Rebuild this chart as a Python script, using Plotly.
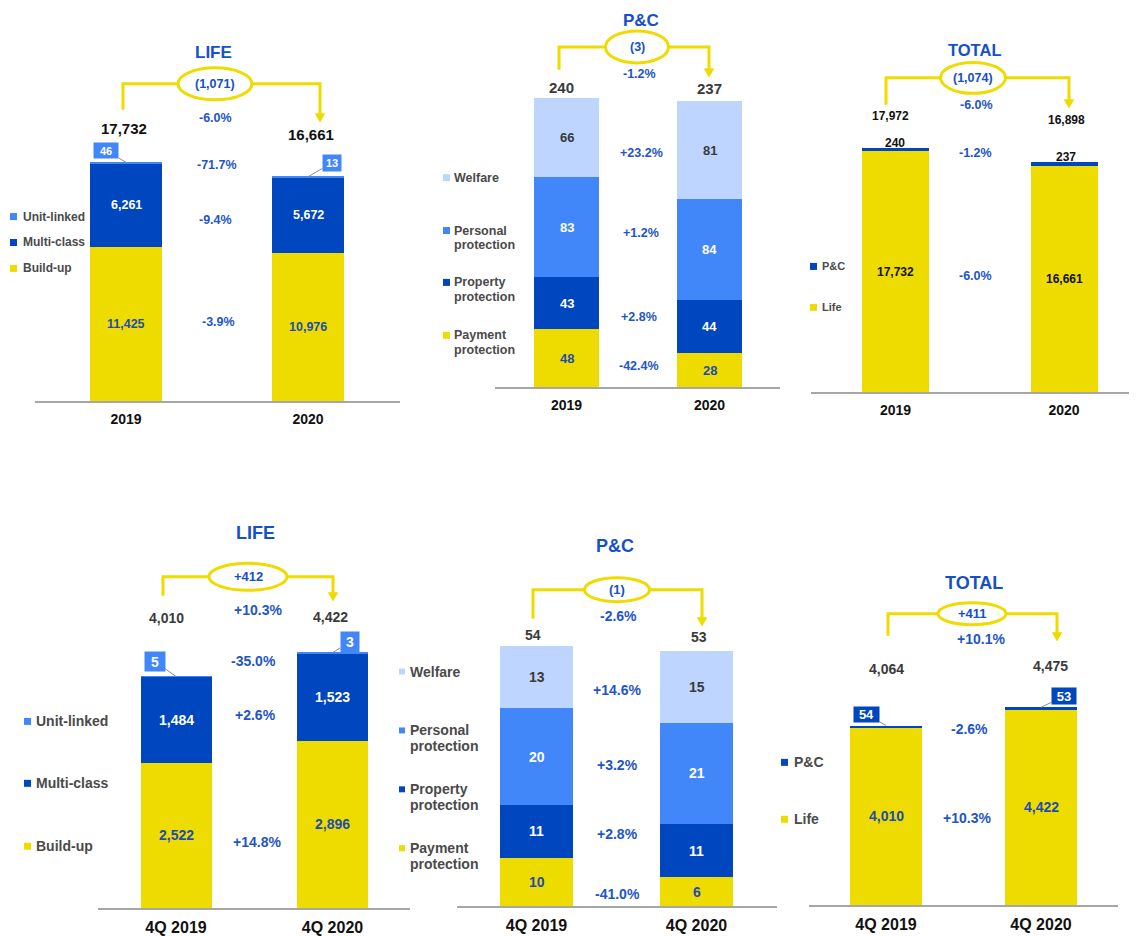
import plotly.graph_objects as go

# The page body has an 8px margin, so the figure is sized to fit the 1137x936 window.
OFF = 8
W, H = 1137 - OFF, 936 - OFF
FONT = "Liberation Sans, Arial, sans-serif"

# ---------------- data ----------------
years = ["2019", "2020"]
quarters = ["4Q 2019", "4Q 2020"]

life_series = ["Build-up", "Multi-class", "Unit-linked"]
pc_series = ["Payment protection", "Property protection", "Personal protection", "Welfare"]
total_series = ["Life", "P&C"]

# LIFE full year
life_fy_build_up = [11425, 10976]
life_fy_multi_class = [6261, 5672]
life_fy_unit_linked = [46, 13]
life_fy_totals = ["17,732", "16,661"]
life_fy_delta = "(1,071)"
life_fy_changes = ["-6.0%", "-71.7%", "-9.4%", "-3.9%"]

# P&C full year
pc_fy_payment = [48, 28]
pc_fy_property = [43, 44]
pc_fy_personal = [83, 84]
pc_fy_welfare = [66, 81]
pc_fy_totals = ["240", "237"]
pc_fy_delta = "(3)"
pc_fy_changes = ["-1.2%", "+23.2%", "+1.2%", "+2.8%", "-42.4%"]

# TOTAL full year
tot_fy_life = [17732, 16661]
tot_fy_pc = [240, 237]
tot_fy_totals = ["17,972", "16,898"]
tot_fy_delta = "(1,074)"
tot_fy_changes = ["-6.0%", "-1.2%", "-6.0%"]

# LIFE 4Q
life_q_build_up = [2522, 2896]
life_q_multi_class = [1484, 1523]
life_q_unit_linked = [5, 3]
life_q_totals = ["4,010", "4,422"]
life_q_delta = "+412"
life_q_changes = ["+10.3%", "-35.0%", "+2.6%", "+14.8%"]

# P&C 4Q
pc_q_payment = [10, 6]
pc_q_property = [11, 11]
pc_q_personal = [20, 21]
pc_q_welfare = [13, 15]
pc_q_totals = ["54", "53"]
pc_q_delta = "(1)"
pc_q_changes = ["-2.6%", "+14.6%", "+3.2%", "+2.8%", "-41.0%"]

# TOTAL 4Q
tot_q_life = [4010, 4422]
tot_q_pc = [54, 53]
tot_q_totals = ["4,064", "4,475"]
tot_q_delta = "+411"
tot_q_changes = ["+10.1%", "-2.6%", "+10.3%"]

# ---------------- styles ----------------
YELLOW = "#EEDC00"
DARK = "#0046BE"
MID = "#4287FA"
LIGHT = "#BED6FF"
TITLE_BLUE = "#1550C8"
PCT_BLUE = "#1E55C8"
IN_YELLOW = "#1C4DAF"
AXIS = "#A6A6A6"
LEG_TXT = "#4A4A4A"
GREY_TXT = "#3A3A3A"

fig = go.Figure()
annotations = []
shapes = []
axes = {}


def px(x):
    return (x - OFF) / W


def py(y):
    return 1 - (y - OFF) / H


def label(x, y, s, size, color, bold=True, xanchor="center"):
    annotations.append(dict(
        xref="paper", yref="paper", x=px(x), y=py(y),
        text=f"<b>{s}</b>" if bold else s, showarrow=False,
        xanchor=xanchor, yanchor="middle",
        font=dict(family=FONT, size=size, color=color)))


def bracket(b):
    lx, ly, hy, rx, tip, cx, ew, eh = b
    shapes.append(dict(type="path", xref="paper", yref="paper",
                       path=f"M {px(lx)},{py(ly)} L {px(lx)},{py(hy)} L {px(rx)},{py(hy)} L {px(rx)},{py(tip - 6)}",
                       line=dict(color=YELLOW, width=3)))
    shapes.append(dict(type="path", xref="paper", yref="paper",
                       path=f"M {px(rx - 4.5)},{py(tip - 8)} L {px(rx + 4.5)},{py(tip - 8)} L {px(rx)},{py(tip)} Z",
                       fillcolor=YELLOW, line=dict(color=YELLOW, width=1)))
    shapes.append(dict(type="circle", xref="paper", yref="paper",
                       x0=px(cx - ew / 2), x1=px(cx + ew / 2), y0=py(hy + eh / 2), y1=py(hy - eh / 2),
                       fillcolor="white", line=dict(color=YELLOW, width=3)))


def add_panel(i, cats, segs, geo):
    xa = "x" if i == 1 else f"x{i}"
    ya = "y" if i == 1 else f"y{i}"
    xl, xr = geo["xspan"]
    c0, c1 = geo["centers"]
    s = c1 - c0
    base, top, upp = geo["base"], geo["top"], geo["upp"]
    for name, vals, color, tcolor in segs:
        fig.add_trace(go.Bar(x=cats, y=vals, name=name, xaxis=xa, yaxis=ya,
                             width=geo["bw"] / s, showlegend=False,
                             marker=dict(color=color, line=dict(width=0))))
    cum = [0, 0]
    for name, vals, color, tcolor in segs:
        for k in range(2):
            if tcolor:
                annotations.append(dict(
                    xref=xa, yref=ya, x=k, y=cum[k] + vals[k] / 2,
                    text=f"<b>{vals[k]:,}</b>", showarrow=False,
                    font=dict(family=FONT, size=geo["insize"], color=tcolor)))
            cum[k] += vals[k]
    # callouts for the thin top segment
    if "callouts" in geo:
        vals = segs[-1][1]
        for k, (ax, ay, w, h) in enumerate(geo["callouts"]):
            annotations.append(dict(
                xref=xa, yref=ya, x=k, y=cum[k], text=f"<b>{vals[k]}</b>",
                showarrow=True, arrowhead=0, arrowwidth=1, arrowcolor="#8C8C8C",
                ax=ax, ay=ay, width=w, height=h, bgcolor=geo["callout_color"],
                font=dict(family=FONT, size=geo["callout_size"], color="white"),
                borderpad=0, standoff=0))
    key = "" if i == 1 else str(i)
    axes["xaxis" + key] = dict(
        domain=[px(xl), px(xr)], range=[-(c0 - xl) / s, 1 + (xr - c1) / s],
        anchor=ya, type="category", showline=True, linecolor=AXIS, linewidth=2,
        ticks="", showgrid=False, zeroline=False, fixedrange=True,
        ticklabelstandoff=geo.get("standoff", 4),
        tickfont=dict(family=FONT, size=geo["ticksize"], color="#111111"),
        tickvals=cats, ticktext=[f"<b>{c}</b>" for c in cats])
    axes["yaxis" + key] = dict(
        domain=[py(base), py(top)], range=[0, (base - top) * upp], anchor=xa,
        visible=False, showgrid=False, zeroline=False, fixedrange=True)
    # title, bracket, delta
    label(*geo["title"], geo["title_text"], geo["title_size"], TITLE_BLUE)
    bracket(geo["bracket"])
    b = geo["bracket"]
    label(b[5], b[2], geo["delta"], geo["delta_size"], TITLE_BLUE)
    # totals
    for (x, y), t in zip(geo["total_pos"], geo["totals"]):
        label(x, y, t, geo["total_size"], geo["total_color"])
    # changes
    for (x, y), t in zip(geo["pct_pos"], geo["changes"]):
        label(x, y, t, geo["pct_size"], PCT_BLUE)
    # legend (top item first)
    mx, tx, lsz, msz, lys, lsp = geo["legend"]
    for (name, vals, color, tcolor), ly in zip(reversed(segs), lys):
        shapes.append(dict(type="rect", xref="paper", yref="paper",
                           x0=px(mx), x1=px(mx + msz), y0=py(ly + msz / 2), y1=py(ly - msz / 2),
                           fillcolor=color, line=dict(width=0)))
        for j, part in enumerate(name.split(" ")):
            label(tx, ly + j * lsp, part, lsz, LEG_TXT, xanchor="left")


# ---------------- panels ----------------
add_panel(1, years,
          [(life_series[0], life_fy_build_up, YELLOW, IN_YELLOW),
           (life_series[1], life_fy_multi_class, DARK, "white"),
           (life_series[2], life_fy_unit_linked, MID, None)],
          dict(xspan=(35, 400), centers=(126, 308), bw=72, base=402, top=30, upp=74.1,
               insize=12.5, ticksize=14, title=(213, 53), title_text="LIFE", title_size=17,
               bracket=(123, 110, 84, 320, 122, 215, 74, 32), delta=life_fy_delta, delta_size=12.5,
               total_pos=[(124, 129), (311, 135)], totals=life_fy_totals, total_size=15, total_color="#111111",
               pct_pos=[(215, 118), (217, 165), (215, 220), (218, 323)], changes=life_fy_changes, pct_size=12.5,
               legend=(10, 21, 12, 7, [217, 243, 269], 14),
               callouts=[(-20, -12, 24, 15), (24, -14, 18, 16)], callout_color=MID, callout_size=11))

add_panel(2, years,
          [(pc_series[0], pc_fy_payment, YELLOW, IN_YELLOW),
           (pc_series[1], pc_fy_property, DARK, "white"),
           (pc_series[2], pc_fy_personal, MID, "white"),
           (pc_series[3], pc_fy_welfare, LIGHT, GREY_TXT)],
          dict(xspan=(495, 780), centers=(566.5, 709.5), bw=65, base=388, top=20, upp=240 / 290,
               insize=13, ticksize=14, title=(641, 21), title_text="P&amp;C", title_size=17,
               bracket=(559, 70, 47, 709, 77, 637, 63, 32), delta=pc_fy_delta, delta_size=12.5,
               total_pos=[(561, 88), (709, 89)], totals=pc_fy_totals, total_size=15, total_color=GREY_TXT,
               pct_pos=[(639, 74), (641, 153), (641, 233), (639, 318), (639, 367)], changes=pc_fy_changes,
               pct_size=12.5, legend=(443, 452, 12.5, 7, [178, 231, 283, 336], 14.5)))

add_panel(3, years,
          [(total_series[0], tot_fy_life, YELLOW, "#111111"),
           (total_series[1], tot_fy_pc, DARK, None)],
          dict(xspan=(811, 1137), centers=(895.5, 1064), bw=67, base=393, top=30, upp=17972 / 245,
               insize=12, ticksize=14, title=(974, 50), title_text="TOTAL", title_size=16.5,
               bracket=(886, 105, 78, 1069, 108, 973, 65, 31), delta=tot_fy_delta, delta_size=12.5,
               total_pos=[(890, 116), (1066, 120)], totals=tot_fy_totals, total_size=12, total_color="#111111",
               pct_pos=[(976, 105), (975, 153), (975, 277)], changes=tot_fy_changes, pct_size=12.5,
               legend=(810, 820, 11, 7, [267, 308], 14)))
for (x, y), v in zip([(895, 143), (1066, 157)], tot_fy_pc):
    label(x, y, f"{v}", 12, "#111111")

add_panel(4, quarters,
          [(life_series[0], life_q_build_up, YELLOW, IN_YELLOW),
           (life_series[1], life_q_multi_class, DARK, "white"),
           (life_series[2], life_q_unit_linked, MID, None)],
          dict(xspan=(98, 410), centers=(176, 332.5), bw=71, base=910, top=520, upp=4010 / 232,
               insize=14, ticksize=16, title=(255, 534), title_text="LIFE", title_size=18,
               bracket=(163, 597, 578, 333, 602, 248, 78, 27), delta=life_q_delta, delta_size=13,
               total_pos=[(166, 619), (330, 618)], totals=life_q_totals, total_size=14, total_color=GREY_TXT,
               pct_pos=[(258, 611), (253, 662), (255, 717), (257, 844)], changes=life_q_changes, pct_size=14,
               legend=(24, 34, 14, 7, [723, 785, 848], 16),
               callouts=[(-21, -15, 20, 19), (17, -11, 18, 20)], callout_color=MID, callout_size=14))

add_panel(5, quarters,
          [(pc_series[0], pc_q_payment, YELLOW, IN_YELLOW),
           (pc_series[1], pc_q_property, DARK, "white"),
           (pc_series[2], pc_q_personal, MID, "white"),
           (pc_series[3], pc_q_welfare, LIGHT, GREY_TXT)],
          dict(xspan=(457, 777), centers=(536.5, 696.5), bw=73, base=908, top=520, upp=54 / 261,
               insize=14, ticksize=16, title=(615, 547), title_text="P&amp;C", title_size=18,
               bracket=(533, 620, 591, 702, 627, 617, 65, 24), delta=pc_q_delta, delta_size=13,
               total_pos=[(533, 636), (699, 638)], totals=pc_q_totals, total_size=14, total_color=GREY_TXT,
               pct_pos=[(618, 617), (617, 691), (617, 767), (617, 836), (617, 896)], changes=pc_q_changes,
               pct_size=14, legend=(399, 408, 14, 6, [673, 732, 791, 850], 16)))

add_panel(6, quarters,
          [(total_series[0], tot_q_life, YELLOW, IN_YELLOW),
           (total_series[1], tot_q_pc, DARK, None)],
          dict(xspan=(809, 1118), centers=(886, 1041), bw=72, base=907, top=520, upp=4064 / 180,
               insize=14, ticksize=16, title=(974, 584), title_text="TOTAL", title_size=18,
               bracket=(888, 637, 615, 1057, 642, 972, 68, 22), delta=tot_q_delta, delta_size=13,
               total_pos=[(886, 670), (1050, 667)], totals=tot_q_totals, total_size=14, total_color=GREY_TXT,
               pct_pos=[(981, 640), (969, 731), (967, 820)], changes=tot_q_changes, pct_size=14,
               legend=(781, 792, 14, 7, [764, 821], 16),
               callouts=[(-20, -11, 25, 15), (23, -11, 24, 16)], callout_color=DARK, callout_size=13))

fig.update_layout(
    width=W, height=H, margin=dict(l=0, r=0, t=0, b=0),
    paper_bgcolor="white", plot_bgcolor="white", barmode="stack", bargap=0,
    showlegend=False, annotations=annotations, shapes=shapes,
    font=dict(family=FONT), **axes)

fig.write_html("out.html")
